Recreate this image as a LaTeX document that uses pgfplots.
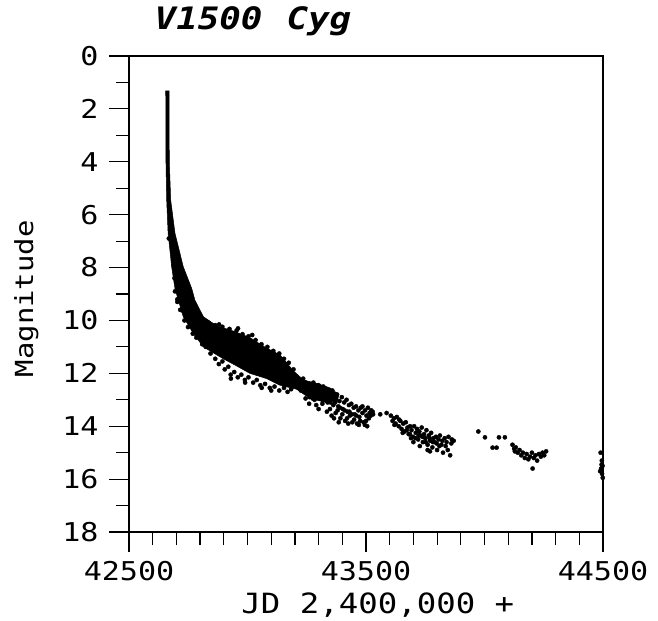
\documentclass[border=0pt]{standalone}
\usepackage{fontspec}
\usepackage{pgfplots}
\pgfplotsset{compat=1.18}
\newfontfamily\plotfont{DejaVu Sans Mono}[FakeStretch=1.16, Numbers=SlashedZero]
\begin{document}
\begin{tikzpicture}
\begin{axis}[
  at={(0,0)}, anchor=south west, scale only axis,
  width=474bp, height=476bp,
  xmin=42500, xmax=44500, ymin=0, ymax=18, y dir=reverse,
  xtick={42500,43500,44500}, xticklabels={42500,43500,44500},
  scaled x ticks=false,
  minor x tick num=9,
  ytick={0,2,...,18}, minor y tick num=1,
  tick align=outside, xtick pos=bottom, ytick pos=left,
  major tick length=20bp, minor tick length=13bp,
  axis line style={line width=1.2bp},
  every tick/.style={line width=1.2bp, black},
  /pgf/number format/assume math mode=true,
  tick label style={font=\plotfont\fontsize{26}{26}\selectfont},
  xticklabel style={yshift=-6bp},
  yticklabel style={xshift=-7bp},
  title={\bfseries\itshape V1500\hspace{24bp}Cyg},
  title style={font=\plotfont\fontsize{31}{31}\selectfont, at={(axis description cs:0.2616,1)}, anchor=base, yshift=21bp},
  xlabel={JD 2,400,000 +},
  xlabel style={font=\plotfont\fontsize{28}{28}\selectfont, at={(axis description cs:0.525,0)}, anchor=base, yshift=-81bp},
  ylabel={Magnitude},
  ylabel style={font=\plotfont\fontsize{25}{25}\selectfont, at={(axis description cs:-0.2025,0.49)}, anchor=base},
]
% dense core of the light curve
\addplot[fill=black, draw=black, line width=0.5bp] coordinates {
 (42655,1.32) (42669,1.32) (42670,4.0) (42676,5.45) (42694,6.7) (42729,7.97)
 (42765,8.8) (42778,9.23) (42814,9.86) (42870,10.2) (42940,10.4) (43010,10.65)
 (43081,11.05) (43137,11.3) (43193,11.9) (43236,12.25) (43300,12.4) (43348,12.55)
 (43385,12.8)
 (43380,13.05) (43330,13.1) (43264,12.95) (43207,12.6) (43137,12.45) (43081,12.2)
 (43010,12.0) (42950,11.7) (42898,11.45) (42870,11.3) (42814,11.0) (42771,10.49)
 (42729,9.86) (42708,9.23) (42694,8.8) (42680,7.97) (42665,6.7) (42659,5.45)
 (42656,4.0) (42655,1.32)
} -- cycle;
% scattered observations
\addplot[only marks, mark=*, mark size=2.1pt, black] coordinates {
 (42668,6.9) (42678,6.8) (42683,7.4) (42688,7.9) (42692,8.4) (42694,8.9)
 (42704,9.3) (42724,9.62) (42749,9.78) (42774,9.88) (42804,9.98) (42834,10.08)
 (42864,10.18) (42894,10.24) (42924,10.32) (42954,10.38) (42979,10.52) (43004,10.6)
 (43034,10.74) (43059,10.9) (43084,11.0) (43109,11.15) (43134,11.25) (43154,11.45)
 (43174,11.6) (43194,11.85) (42790,9.9) (42880,10.15) (43020,10.55) (42960,10.3)
 (42704,9.2) (42716,9.6) (42734,10.0) (42749,10.25) (42769,10.5) (42784,10.65)
 (42809,10.9) (42824,11.0) (42844,11.25) (42864,11.45) (42879,11.65) (42894,11.55)
 (42904,11.85) (42919,11.75) (42929,12.05) (42944,11.95) (42959,12.15) (42974,12.05)
 (42989,12.25) (43004,12.15) (43024,12.35) (43039,12.25) (43054,12.45) (43074,12.4)
 (43094,12.55) (43114,12.5) (43134,12.65) (43154,12.55) (43169,12.7) (43184,12.6)
 (42930,12.2) (42990,12.35) (43060,12.55) (43100,12.65)
 (43200,12.1) (43205,12.4) (43210,12.25) (43215,12.55) (43222,12.3) (43228,12.45)
 (43235,12.2) (43240,12.6) (43245,12.35) (43252,12.75) (43258,12.4) (43262,12.9)
 (43268,12.5) (43272,12.7) (43278,12.35) (43283,13.0) (43288,12.55) (43294,12.8)
 (43300,12.45) (43305,12.95) (43310,12.65) (43316,13.15) (43320,12.5) (43326,12.85)
 (43332,12.6) (43338,13.1) (43342,12.75) (43348,13.35) (43352,12.9) (43358,12.65)
 (43362,13.2) (43368,12.95) (43372,13.5) (43378,12.8) (43383,13.25) (43388,13.05)
 (43392,13.7) (43398,12.9) (43402,13.35) (43408,13.1) (43412,13.8) (43418,13.0)
 (43422,13.45) (43428,13.2) (43432,13.6) (43438,13.15) (43442,13.85) (43448,13.3)
 (43452,13.55) (43458,13.25) (43462,13.9) (43468,13.4) (43472,13.65) (43478,13.3)
 (43485,13.5) (43490,13.85) (43496,13.4) (43502,13.6) (43508,13.3) (43515,13.5)
 (43522,13.4) (43528,13.45) (43260,13.15) (43245,12.95) (43290,13.2) (43335,13.45)
 (43355,13.6) (43470,13.95) (43495,13.95)
 (43212,12.5) (43225,12.65) (43238,12.45) (43250,12.55) (43265,12.7) (43275,12.95)
 (43285,12.75) (43298,12.65) (43308,12.85) (43318,13.0) (43328,12.75) (43340,12.95)
 (43350,13.1) (43360,12.85) (43370,13.1) (43380,13.4) (43390,13.3) (43400,13.55)
 (43410,13.4) (43420,13.7) (43430,13.45) (43440,13.55) (43450,13.75) (43460,13.6)
 (43475,13.8) (43485,13.25) (43500,13.8) (43512,13.7) (43520,13.6) (43530,13.55)
 (43300,13.35) (43365,13.7) (43385,13.85) (43425,13.9) (43505,14.0)
 (43560,13.55) (43587,13.5)
 (43605,13.6) (43612,13.8) (43618,13.7) (43625,13.9) (43630,13.65) (43638,14.0)
 (43645,13.8) (43650,14.1) (43657,13.9) (43662,14.2) (43668,13.85) (43675,14.05)
 (43680,14.3) (43686,14.0) (43692,14.15) (43698,14.4) (43703,14.0) (43710,14.25)
 (43715,14.1) (43720,14.5) (43725,14.2) (43730,14.35) (43735,14.05) (43740,14.6)
 (43745,14.3) (43750,14.45) (43755,14.15) (43760,14.7) (43765,14.35) (43770,14.55)
 (43775,14.25) (43780,14.8) (43785,14.45) (43790,14.6) (43795,14.4) (43800,14.9)
 (43806,14.5) (43812,14.35) (43818,14.7) (43825,15.0) (43832,14.45) (43840,14.6)
 (43848,14.4) (43855,15.1) (43862,14.5) (43700,14.6) (43690,14.45) (43770,14.95)
 (43620,13.95) (43640,13.75) (43655,14.25) (43672,14.15) (43685,14.3) (43708,14.45)
 (43722,14.35) (43738,14.4) (43752,14.6) (43768,14.45) (43782,14.6) (43798,14.65)
 (43810,14.75) (43822,14.55) (43836,14.75) (43845,14.9) (43860,14.65) (43870,14.55)
 (43727,14.75) (43760,14.9)
 (43974,14.2) (44002,14.42) (44034,14.81) (44051,14.81) (44061,14.42) (44086,14.42)
 (44118,14.7) (44125,14.85) (44132,14.8) (44140,15.0) (44148,14.9) (44155,15.1)
 (44162,15.0) (44170,15.2) (44178,15.05) (44185,15.25) (44192,15.15) (44200,15.0)
 (44203,15.6) (44208,15.2) (44215,15.1) (44222,15.3) (44230,15.05) (44238,15.15)
 (44245,15.0) (44252,15.1) (44260,14.95) (44128,14.95)
 (44490,15.0) (44495,15.3) (44498,15.5) (44492,15.6) (44488,15.7) (44496,15.8)
 (44499,15.95) (44494,15.45)
};
\end{axis}
\path (-129bp,-89bp) rectangle (529bp,532bp);
\end{tikzpicture}
\end{document}
